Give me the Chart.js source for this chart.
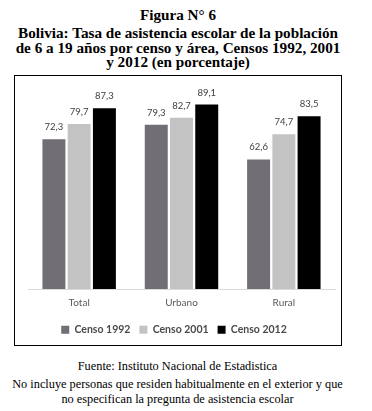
<!DOCTYPE html>
<html>
<head>
<meta charset="utf-8">
<script src="https://cdn.jsdelivr.net/npm/chart.js@4/dist/chart.umd.min.js"></script>
<style>
  html, body { margin: 0; padding: 0; background: #fff; }
  body { width: 372px; height: 411px; position: relative; overflow: hidden; }
  .titulo {
    position: absolute; left: 0; width: 356px;
    font-family: "Liberation Serif", "Times New Roman", serif;
    font-weight: bold; font-size: 15.2px; text-align: center; color: #000;
  }
  .caja {
    position: absolute; left: 14px; top: 75px; width: 326px; height: 269px;
    border: 1.5px solid #000;
  }
  .caja canvas { position: absolute; left: 0; top: 0; }
  .pie {
    position: absolute; left: 0; width: 355px; text-align: center;
    font-family: "Liberation Serif", "Times New Roman", serif;
    font-size: 12.3px; color: #000;
  }
</style>
</head>
<body>
<div class="titulo" style="top:6px; line-height:18px;">Figura N° 6</div>
<div class="titulo" style="top:26px; line-height:14.7px;">Bolivia: Tasa de asistencia escolar de la población<br>de 6 a 19 años por censo y área, Censos 1992, 2001<br>y 2012 (en porcentaje)</div>
<div class="caja"><canvas id="grafico" width="326" height="269"></canvas></div>
<div class="pie" style="top:359px; line-height:14px;">Fuente: Instituto Nacional de Estadistica</div>
<div class="pie" style="top:376.5px; line-height:15px;">No incluye personas que residen habitualmente en el exterior y que<br>no especifican la pregunta de asistencia escolar</div>

<script>
const categorias = ["Total", "Urbano", "Rural"];
const censo1992 = [72.3, 79.3, 62.6];
const censo2001 = [79.7, 82.7, 74.7];
const censo2012 = [87.3, 89.1, 83.5];

// etiquetas de valor encima de cada barra
const etiquetasValor = {
  id: "etiquetasValor",
  afterDatasetsDraw(chart) {
    const ctx = chart.ctx;
    ctx.save();
    ctx.font = "9.5px Lato, sans-serif";
    ctx.fillStyle = "#404040";
    ctx.textAlign = "center";
    ctx.textBaseline = "middle";
    chart.data.datasets.forEach((ds, i) => {
      chart.getDatasetMeta(i).data.forEach((bar, j) => {
        const txt = ds.data[j].toFixed(1).replace(".", ",");
        ctx.fillText(txt, bar.x, bar.y - 12);
      });
    });
    ctx.restore();
  }
};

// la leyenda del original está un poco corrida a la izquierda
const moverLeyenda = {
  id: "moverLeyenda",
  afterLayout(chart) {
    chart.legend.left -= 7.5;
    chart.legend.right -= 7.5;
  }
};

new Chart(document.getElementById("grafico"), {
  type: "bar",
  data: {
    labels: categorias,
    datasets: [
      { label: "Censo 1992", data: censo1992, backgroundColor: "#716e75" },
      { label: "Censo 2001", data: censo2001, backgroundColor: "#c3c3c3" },
      { label: "Censo 2012", data: censo2012, backgroundColor: "#000000" }
    ]
  },
  options: {
    responsive: false,
    animation: false,
    devicePixelRatio: 1,
    categoryPercentage: 0.74,
    barPercentage: 0.91,
    layout: { padding: { left: 13, right: 6, top: 6, bottom: 0 } },
    plugins: {
      tooltip: { enabled: false },
      legend: {
        position: "bottom",
        labels: {
          boxWidth: 8,
          boxHeight: 8,
          padding: 9,
          color: "#4a4a4a",
          font: { family: "Lato, sans-serif", size: 10.5, weight: "bold" }
        }
      }
    },
    scales: {
      y: { display: false, min: 0, max: 100 },
      x: {
        grid: { display: false, drawTicks: false },
        border: { color: "#d9d9d9", width: 1 },
        ticks: { color: "#595959", padding: 8, font: { family: "Lato, sans-serif", size: 10 } },
        afterFit(scale) { scale.height = 26.5; }
      }
    }
  },
  plugins: [etiquetasValor, moverLeyenda]
});
</script>
</body>
</html>
